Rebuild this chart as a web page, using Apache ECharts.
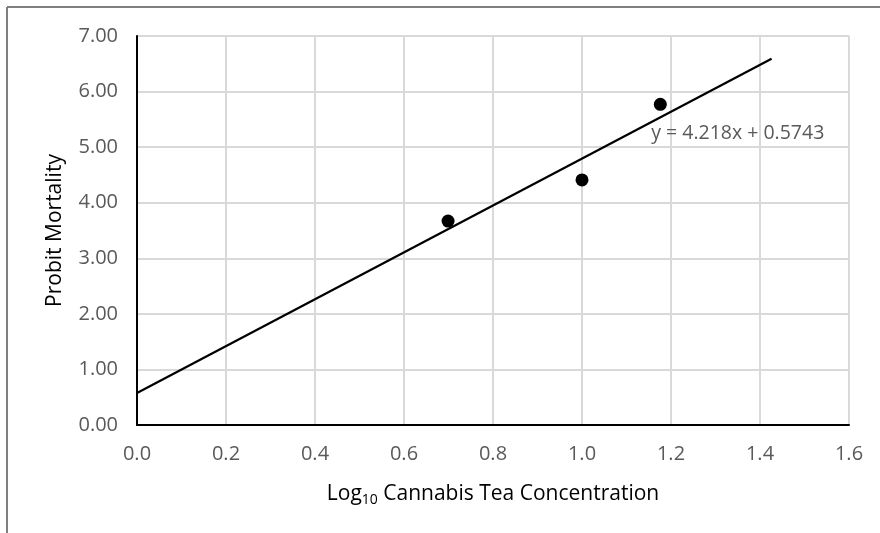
<!DOCTYPE html>
<html><head><meta charset="utf-8">
<script src="https://cdn.jsdelivr.net/npm/echarts@6/dist/echarts.min.js"></script>
<style>html,body{margin:0;padding:0;background:#fff}#c{width:880px;height:533px}</style>
</head><body><div id="c"></div>
<script>
const xValues = [0.699, 1.0, 1.176];
const yValues = [3.67, 4.41, 5.77];
const slope = 4.218;
const intercept = 0.5743;
const trendRange = [0, 1.426];
const equationLabel = 'y = 4.218x + 0.5743';
const yTitle = 'Probit Mortality';

const points = xValues.map((x, i) => [x, yValues[i]]);
const trend = trendRange.map(x => [x, slope * x + intercept]);

const chart = echarts.init(document.getElementById('c'));
const font = 'Open Sans';
chart.setOption({
  animation: false,
  backgroundColor: '#fff',
  grid: { left: 137, right: 31, top: 36, bottom: 108 },
  xAxis: {
    type: 'value', min: 0, max: 1.6, interval: 0.2,
    axisLine: { show: true, onZero: false, lineStyle: { color: '#000', width: 2 } },
    axisTick: { show: false },
    splitLine: { show: true, lineStyle: { color: '#d9d9d9', width: 2 } },
    axisLabel: { color: '#595959', fontSize: 20, fontFamily: font, margin: 19, formatter: v => v.toFixed(1) },
    name: '{a|Log}{s|10}{a| Cannabis Tea Concentration}',
    nameLocation: 'middle', nameGap: 57,
    nameTextStyle: { rich: {
      a: { fontSize: 21, color: '#000', fontFamily: font },
      s: { fontSize: 14, color: '#000', fontFamily: font, verticalAlign: 'bottom', padding: [11, 0, 0, 0] }
    } }
  },
  yAxis: {
    type: 'value', min: 0, max: 7, interval: 1,
    axisLine: { show: true, lineStyle: { color: '#000', width: 2 } },
    axisTick: { show: false },
    splitLine: { show: true, lineStyle: { color: '#d9d9d9', width: 2 } },
    axisLabel: { color: '#595959', fontSize: 20, fontFamily: font, margin: 19, formatter: v => v.toFixed(2) },
    name: yTitle, nameLocation: 'middle', nameGap: 71, nameRotate: 90,
    nameTextStyle: { fontSize: 21, color: '#000', fontFamily: font }
  },
  series: [
    {
      type: 'line', data: trend, symbol: 'none', silent: true,
      lineStyle: { color: '#000', width: 2.2 },
      markPoint: {
        symbol: 'rect', symbolSize: 1, itemStyle: { color: 'transparent' },
        data: [{ coord: [1.35, 5.25], label: { show: true, formatter: equationLabel, color: '#595959', fontSize: 19.5, fontFamily: font, position: 'inside' } }]
      }
    },
    {
      type: 'scatter', data: points, symbol: 'circle', symbolSize: 13,
      itemStyle: { color: '#000', opacity: 1 }
    }
  ],
  graphic: [
    { type: 'line', shape: { x1: 7, y1: 7, x2: 880, y2: 7 }, style: { stroke: '#7f7f7f', lineWidth: 2 } },
    { type: 'line', shape: { x1: 7, y1: 7, x2: 7, y2: 533 }, style: { stroke: '#7f7f7f', lineWidth: 2 } }
  ]
});
</script></body></html>
